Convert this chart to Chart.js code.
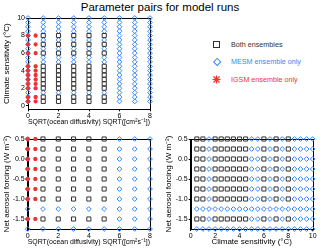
<!DOCTYPE html>
<html>
<head>
<meta charset="utf-8">
<script src="https://cdn.jsdelivr.net/npm/chart.js@4.4.1/dist/chart.umd.min.js"></script>
<style>
body { margin:0; background:#fff; width:320px; height:250px; position:relative; overflow:hidden; font-family:"Liberation Sans", Arial, sans-serif; }
canvas { position:absolute; }
#title { position:absolute; left:0; top:0; width:320px; text-align:center; font-size:11.5px; line-height:14px; color:#000; }
.leg { position:absolute; left:231px; font-size:7.2px; line-height:9px; white-space:nowrap; }
#sq { position:absolute; left:213px; top:40.5px; width:7px; height:7px; border:1.3px solid #333; box-sizing:border-box; }
#dm { position:absolute; left:213.5px; top:58.5px; width:6.4px; height:6.4px; border:1.2px solid rgb(55,135,245); box-sizing:border-box; transform:rotate(45deg); }
#st { position:absolute; left:212px; top:74.5px; }
</style>
</head>
<body>
<div id="title">Parameter pairs for model runs</div>
<canvas id="c1" width="160" height="116" style="left:0;top:12px"></canvas>
<canvas id="c2" width="160" height="122" style="left:0;top:128px"></canvas>
<canvas id="c3" width="160" height="122" style="left:160px;top:128px"></canvas>

<div id="sq"></div>
<div class="leg" style="top:39.5px;color:#333">Both ensembles</div>
<div id="dm"></div>
<div class="leg" style="top:57px;color:rgb(55,135,245)">MESM ensemble only</div>
<svg id="st" width="9" height="9" viewBox="0 0 9 9">
  <g stroke="rgb(240,50,50)" stroke-width="1.2">
    <line x1="4.5" y1="0.5" x2="4.5" y2="8.5"/><line x1="0.5" y1="4.5" x2="8.5" y2="4.5"/>
    <line x1="1.5" y1="1.5" x2="7.5" y2="7.5"/><line x1="7.5" y1="1.5" x2="1.5" y2="7.5"/>
  </g>
</svg>
<div class="leg" style="top:74.5px;color:rgb(240,50,50)">IGSM ensemble only</div>

<script>
// parameter values (sqrt ocean diffusivity, climate sensitivity, aerosol forcing)
var kvMESM = [0, 1, 2, 3, 4, 5, 6, 7, 8];
var kvBoth = [1, 2, 3, 4, 5];
var kvIGSMonly = [0, 0.5];
var sMESM = [0.5, 1, 1.5, 2, 2.5, 3, 3.5, 4, 4.5, 5, 5.5, 6, 6.5, 7, 7.5, 8, 8.5, 9, 9.5, 10];
var sIGSM = [0.5, 1, 2, 2.5, 3, 3.5, 4, 4.5, 6, 7, 8];
var aerMESM = [-1.75, -1.5, -1.25, -1, -0.75, -0.5, -0.25, 0, 0.25, 0.5];
var aerIGSM = [-1.5, -1, -0.75, -0.5, -0.25, 0, 0.25, 0.5];

// tick labels
var kvTicks = [0, 2, 4, 6, 8];
var sTicks = [0, 2, 4, 6, 8, 10];
var aerTicks = [-1.5, -1, -0.5, 0, 0.5];

var BLUE = 'rgb(55,135,245)', RED = 'rgb(240,50,50)', DARK = '#333';
var FONT = '"Liberation Sans", Arial, sans-serif';

function pairs(xs, ys) {
  var out = [];
  xs.forEach(function (x) { ys.forEach(function (y) { out.push({x: x, y: y}); }); });
  return out;
}
function minus(a, b) {
  return a.filter(function (p) {
    return !b.some(function (q) { return q.x === p.x && q.y === p.y; });
  });
}

function sets(mesm, both, igsm) {
  var ds = [];
  if (igsm) ds.push({data: igsm, pointStyle: 'star', pointRadius: 2.1, borderColor: RED, backgroundColor: RED, borderWidth: 1.3});
  ds.push({data: both, pointStyle: 'rect', pointRadius: 2.9, borderColor: DARK, backgroundColor: 'rgba(0,0,0,0)', borderWidth: 1});
  ds.push({data: minus(mesm, both), pointStyle: 'rectRot', pointRadius: 2.4, borderColor: BLUE, backgroundColor: 'rgba(0,0,0,0)', borderWidth: 1});
  ds.forEach(function (d) { d.clip = false; d.pointHoverRadius = d.pointRadius; });
  return ds;
}

var box = {
  id: 'box',
  beforeDatasetsDraw: function (c) {
    var a = c.chartArea, ctx = c.ctx;
    ctx.save();
    ctx.strokeStyle = '#000';
    ctx.lineWidth = 1;
    ctx.strokeRect(Math.round(a.left) + 0.5, Math.round(a.top) + 0.5, Math.round(a.right - a.left), Math.round(a.bottom - a.top));
    ctx.restore();
  }
};

function axis(o) {
  return {
    type: 'linear', min: o.min, max: o.max,
    afterBuildTicks: function (s) { s.ticks = o.ticks.map(function (v) { return {value: v}; }); },
    afterFit: function (s) { if (o.w) s.width = o.w; if (o.h) s.height = o.h; },
    grid: {drawOnChartArea: false, drawTicks: true, tickLength: 2, color: '#000'},
    border: {display: true, color: '#000'},
    ticks: {font: {size: 7, family: FONT}, color: '#000', padding: 1, maxRotation: 0, autoSkip: false,
            callback: o.fmt || function (v) { return v; }},
    title: {display: true, text: o.title, font: {size: 8, family: FONT}, color: '#000', padding: o.tp}
  };
}

function draw(id, datasets, x, y, pad) {
  new Chart(document.getElementById(id), {
    type: 'scatter',
    data: {datasets: datasets},
    options: {
      responsive: false, animation: false,
      layout: {padding: pad},
      plugins: {legend: {display: false}, tooltip: {enabled: false}},
      scales: {x: axis(x), y: axis(y)}
    },
    plugins: [box]
  });
}

var kvLabel = 'SQRT(ocean diffusivity) SQRT([cm\u00B2s\u207B\u00B9])';
var aerLabel = 'Net aerosol forcing (W m\u207B\u00B2)';
var fmt1 = function (v) { return v.toFixed(1); };

draw('c1',
  sets(pairs(kvMESM, sMESM), pairs(kvBoth, sIGSM), pairs(kvIGSMonly, sIGSM)),
  {min: 0, max: 8, ticks: kvTicks, title: kvLabel, h: 18.7, tp: {top: 0, bottom: 1.5}},
  {min: -0.4, max: 10, ticks: sTicks, title: 'Climate sensitivity (\u00B0C)', w: 28, tp: {top: 2, bottom: 0}},
  {left: 0, top: 6, right: 10, bottom: 0});

draw('c2',
  sets(pairs(kvMESM, aerMESM), pairs(kvBoth, aerIGSM), pairs(kvIGSMonly, aerIGSM)),
  {min: 0, max: 8, ticks: kvTicks, title: kvLabel, h: 21, tp: {top: 0, bottom: 3.2}},
  {min: -1.75, max: 0.5, ticks: aerTicks, title: aerLabel, w: 27.7, tp: {top: 1.9, bottom: 0}, fmt: fmt1},
  {left: 0, top: 11, right: 10, bottom: 0});

draw('c3',
  sets(pairs(sMESM, aerMESM), pairs(sIGSM, aerIGSM), null),
  {min: 0, max: 10, ticks: sTicks, title: 'Climate sensitivity (\u00B0C)', h: 21, tp: {top: 0, bottom: 3.2}},
  {min: -1.75, max: 0.5, ticks: aerTicks, title: aerLabel, w: 30.7, tp: {top: 4.2, bottom: 0}, fmt: fmt1},
  {left: 0, top: 11, right: 7.3, bottom: 0});
</script>
</body>
</html>
